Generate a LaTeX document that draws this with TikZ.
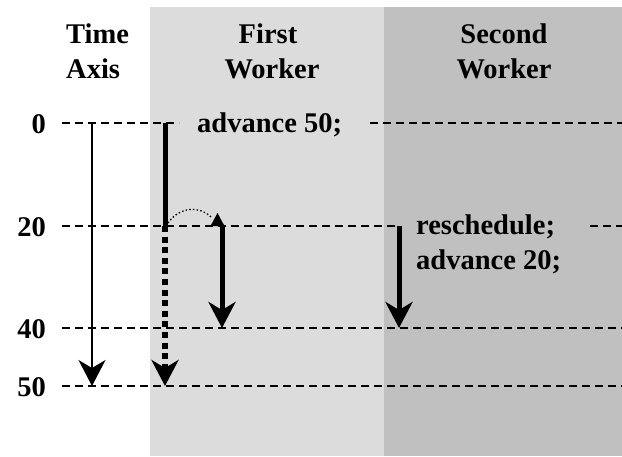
\documentclass[tikz,border=0pt]{standalone}
\usepackage{fontspec}
\setmainfont{Liberation Serif}
\usetikzlibrary{arrows.meta}
\definecolor{lightpanel}{RGB}{220,220,220}
\definecolor{darkpanel}{RGB}{192,192,192}
\begin{document}
\begin{tikzpicture}[x=1pt,y=-1pt,
  lbl/.style={font=\bfseries\fontsize{28.5}{35}\selectfont, inner sep=0pt},
  gridline/.style={dash pattern=on 8pt off 5pt, line width=1.4pt},
  bigtip/.style={-{Stealth[length=26pt,width=27pt,inset=8pt]}},
  heavy/.style={line width=5pt},
  heavydot/.style={line width=6pt, dash pattern=on 6pt off 4.6pt},
  arcdot/.style={line width=1.3pt, dash pattern=on 1.5pt off 2.2pt}
]
\useasboundingbox (0,0) rectangle (622,456);
\fill[lightpanel] (150,7) rectangle (384,456);
\fill[darkpanel] (384,7) rectangle (622,456);

% headers
\node[lbl,anchor=base west] (hT1) at (66,43) {Time};
\node[lbl,anchor=base west] (hT2) at (66,78) {Axis};
\node[lbl,anchor=base] (hF1) at (268,43) {First};
\node[lbl,anchor=base] (hF2) at (272,78) {Worker};
\node[lbl,anchor=base] (hS1) at (504,43) {Second};
\node[lbl,anchor=base] (hS2) at (504,78) {Worker};

% time labels
\node[lbl,anchor=base east] (n0) at (46,133) {0};
\node[lbl,anchor=base east] (n20) at (46,236) {20};
\node[lbl,anchor=base east] (n40) at (46,338) {40};
\node[lbl,anchor=base east] (n50) at (46,396) {50};

% code texts
\node[lbl,anchor=base west] (adv50) at (197,132) {advance 50;};
\node[lbl,anchor=base west] (resch) at (416,234) {reschedule;};
\node[lbl,anchor=base west] (adv20) at (416,269) {advance 20;};

% grid coordinates
\coordinate (a0) at (62,123);   \coordinate (b0) at (179,123);
\coordinate (c0) at (370,123);  \coordinate (d0) at (622,123);
\coordinate (a20) at (62,226);  \coordinate (b20) at (398,226);
\coordinate (c20) at (590,226); \coordinate (d20) at (622,226);
\coordinate (a40) at (62,328);  \coordinate (d40) at (622,328);
\coordinate (a50) at (62,386);  \coordinate (d50) at (622,386);

\draw[gridline] (a0) -- (b0);
\draw[gridline] (c0) -- (d0);
\draw[gridline] (a20) -- (b20);
\draw[gridline] (c20) -- (d20);
\draw[gridline] (a40) -- (d40);
\draw[gridline] (a50) -- (d50);

% time axis
\coordinate (t0) at (92,123);
\coordinate (t50) at (92,386);
\draw[bigtip, line width=1.3pt] (t0) -- (t50);

% first worker
\coordinate (f0) at (165,123);
\coordinate (f20) at (165,226);
\coordinate (f50) at (165,386);
\draw[heavy] (f0) -- (f20);
\draw[heavydot, bigtip] (f20) -- (f50);

\coordinate (g20) at (222,226);
\coordinate (g40) at (222,328);
\draw[heavy, bigtip] (g20) -- (g40);

% rescheduling arc
\coordinate (arcS) at (168,223);
\coordinate (arcE) at (211,217);
\draw[arcdot] (arcS) .. controls (180,206) and (200,206) .. (arcE);
\fill (217.5,213) -- (224.5,226) -- (210.5,226) -- cycle;

% second worker
\coordinate (s20) at (399,226);
\coordinate (s40) at (399,328);
\draw[heavy, bigtip] (s20) -- (s40);
\end{tikzpicture}
\end{document}
